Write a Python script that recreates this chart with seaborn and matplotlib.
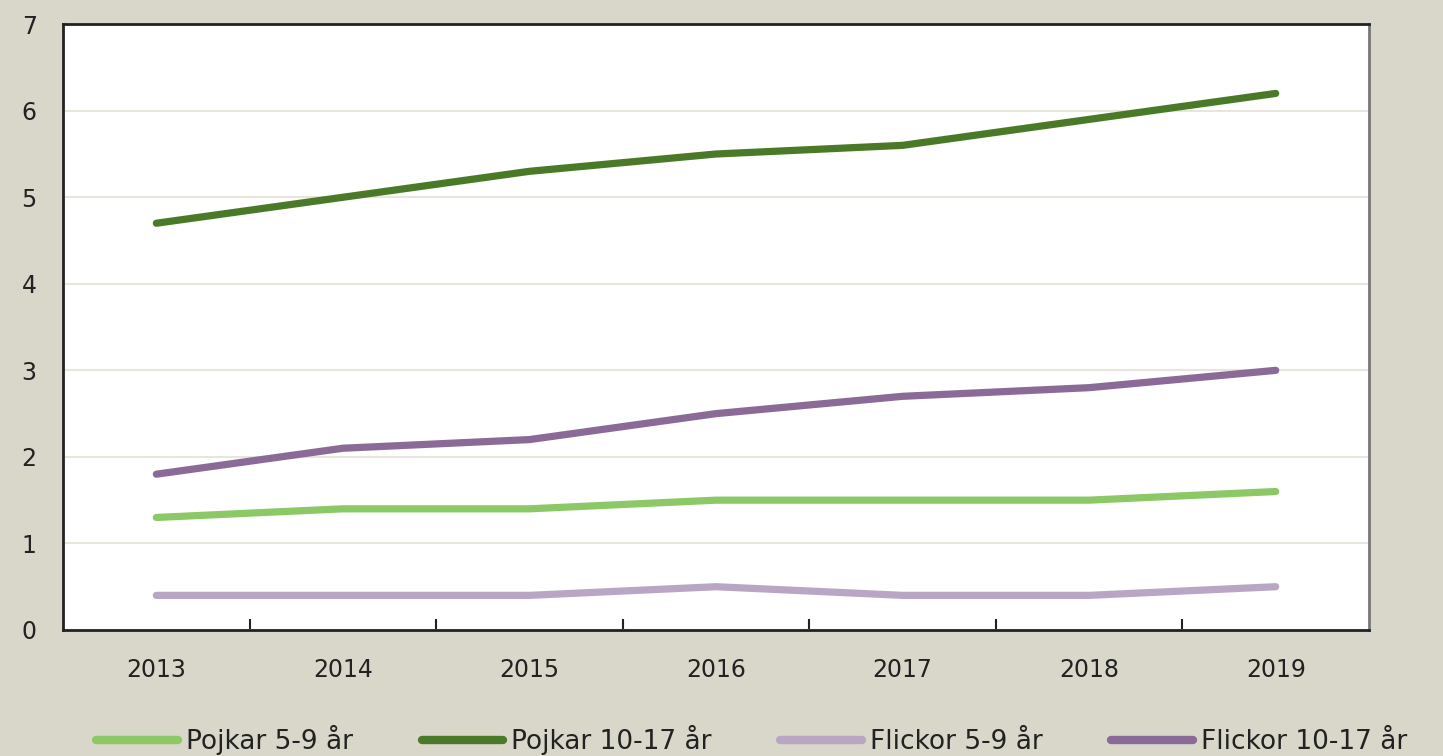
import matplotlib
matplotlib.use("Agg")
import matplotlib.pyplot as plt
import seaborn as sns
import pandas as pd

years = ["2013", "2014", "2015", "2016", "2017", "2018", "2019"]
pojkar_5_9 = [1.3, 1.4, 1.4, 1.5, 1.5, 1.5, 1.6]
pojkar_10_17 = [4.7, 5.0, 5.3, 5.5, 5.6, 5.9, 6.2]
flickor_5_9 = [0.4, 0.4, 0.4, 0.5, 0.4, 0.4, 0.5]
flickor_10_17 = [1.8, 2.1, 2.2, 2.5, 2.7, 2.8, 3.0]
series_names = ["Pojkar 5-9 år", "Pojkar 10-17 år", "Flickor 5-9 år", "Flickor 10-17 år"]
colors = ["#8CC866", "#4A7A28", "#B9A6C5", "#8A6A96"]

df = pd.concat([
    pd.DataFrame({"år": years, "värde": vals, "grupp": name})
    for name, vals in zip(series_names, [pojkar_5_9, pojkar_10_17, flickor_5_9, flickor_10_17])
])

sns.set_theme(style="white")
plt.rcParams["font.family"] = ["DejaVu Sans"]
bg = "#D9D6CA"
txt = "#222222"

fig = plt.figure(figsize=(14.43, 7.56), dpi=100, facecolor=bg)
ax = fig.add_axes([0.0437, 0.1667, 0.905, 0.8013])
ax.set_facecolor("white")

sns.lineplot(data=df, x="år", y="värde", hue="grupp", hue_order=series_names,
             palette=colors, linewidth=5.2, ax=ax, legend=True, sort=False,
             solid_capstyle="round", solid_joinstyle="round")

ax.set_xlim(-0.5, 6.5)
ax.set_ylim(0, 7)
ax.set_yticks(range(0, 8))
ax.set_xlabel("")
ax.set_ylabel("")
ax.yaxis.grid(True, color="#E8E5DC", linewidth=1.5)
ax.set_axisbelow(True)

# Category ticks sit between the years
ax.set_xticks([i + 0.5 for i in range(len(years) - 1)], minor=True)
ax.set_xticks(range(len(years)))
ax.set_xticklabels(years)
ax.tick_params(axis="x", which="major", length=0, pad=20, labelsize=17, colors=txt)
ax.tick_params(axis="x", which="minor", length=8, width=1.5, direction="in", color=txt, bottom=True)
ax.tick_params(axis="y", length=0, pad=19, labelsize=17, colors=txt)

for side in ["left", "bottom", "top"]:
    ax.spines[side].set_color(txt)
    ax.spines[side].set_linewidth(2)
ax.spines["right"].set_color("#777777")
ax.spines["right"].set_linewidth(2)

handles, labels = ax.get_legend_handles_labels()
ax.get_legend().remove()
for h in handles:
    h.set_linewidth(6)
fig.legend(handles, labels, loc="lower center", bbox_to_anchor=(0.521, -0.03), ncol=4,
           frameon=False, fontsize=19, handlelength=3.1, handletextpad=0.3,
           columnspacing=2.6, labelcolor=txt)

fig.savefig("out.png", dpi=100, facecolor=bg)
